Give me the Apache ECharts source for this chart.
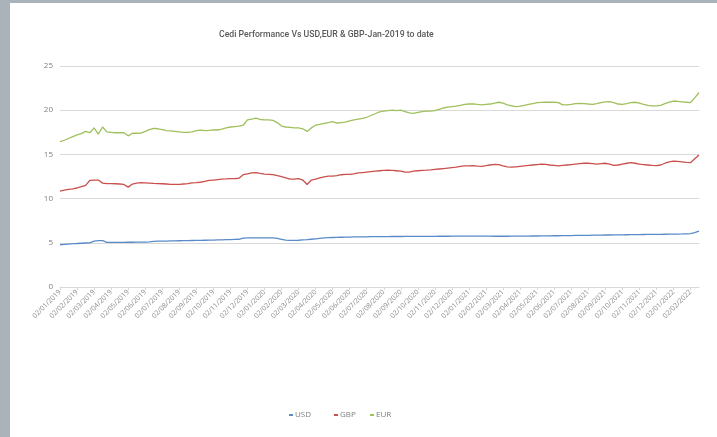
<!DOCTYPE html>
<html>
<head>
<meta charset="utf-8">
<script src="https://cdn.jsdelivr.net/npm/echarts@6/dist/echarts.min.js"></script>
<style>
html,body{margin:0;padding:0;background:#fff;}
#c{width:717px;height:437px;}
</style>
</head>
<body>
<div id="c"></div>
<script>
// Month starts shown on the axis (dd/mm/yyyy); four weekly points per month
var weekDays = ['02', '09', '16', '23'];
var totalPoints = 151;

var usd = [
4.78,4.82,4.86,4.9, 4.92,4.95,4.98,5.0, 5.2,5.25,5.25,5.05, 5.05,5.05,5.05,5.05,
5.06,5.06,5.07,5.07, 5.08,5.1,5.15,5.18, 5.2,5.2,5.21,5.22, 5.23,5.24,5.25,5.26,
5.27,5.28,5.29,5.3, 5.31,5.32,5.33,5.35, 5.36,5.38,5.4,5.54, 5.55,5.55,5.56,5.56,
5.56,5.56,5.55,5.5, 5.4,5.3,5.28,5.28, 5.29,5.32,5.35,5.4, 5.45,5.5,5.55,5.58,
5.6,5.62,5.63,5.64, 5.65,5.66,5.67,5.68, 5.68,5.69,5.69,5.7, 5.7,5.7,5.71,5.71,
5.71,5.72,5.72,5.72, 5.72,5.72,5.73,5.73, 5.73,5.74,5.74,5.74, 5.75,5.75,5.75,5.76,
5.76,5.76,5.76,5.75, 5.75,5.75,5.74,5.74, 5.74,5.74,5.75,5.75, 5.75,5.76,5.76,5.77,
5.77,5.78,5.78,5.79, 5.8,5.8,5.81,5.82, 5.82,5.83,5.84,5.84, 5.85,5.86,5.86,5.87,
5.88,5.88,5.89,5.9, 5.9,5.91,5.92,5.93, 5.93,5.94,5.95,5.95, 5.96,5.96,5.97,5.98,
5.98,5.99,6.0,6.02, 6.03,6.15,6.33
];

var gbp = [
10.85,10.95,11.05,11.1, 11.2,11.35,11.5,12.05, 12.1,12.1,11.75,11.7, 11.7,11.68,11.65,11.6,
11.3,11.65,11.75,11.8, 11.78,11.75,11.72,11.7, 11.68,11.65,11.62,11.6, 11.6,11.65,11.7,11.78,
11.8,11.85,11.95,12.05, 12.1,12.15,12.2,12.22, 12.25,12.25,12.3,12.7, 12.8,12.9,12.93,12.85,
12.78,12.75,12.72,12.6, 12.48,12.35,12.2,12.2, 12.25,12.1,11.6,12.1, 12.2,12.35,12.45,12.55,
12.55,12.6,12.7,12.75, 12.75,12.8,12.9,12.95, 13.0,13.05,13.1,13.15, 13.2,13.23,13.2,13.15,
13.1,13.0,13.0,13.1, 13.15,13.2,13.22,13.25, 13.3,13.35,13.4,13.45, 13.5,13.55,13.65,13.7,
13.7,13.72,13.68,13.65, 13.72,13.8,13.88,13.85, 13.7,13.6,13.55,13.6, 13.65,13.7,13.75,13.8,
13.85,13.9,13.88,13.8, 13.75,13.7,13.75,13.8, 13.85,13.9,13.95,14.0, 14.0,13.95,13.9,13.95,
14.0,13.9,13.75,13.8, 13.9,14.0,14.06,14.0, 13.9,13.85,13.8,13.75, 13.73,13.8,14.0,14.15,
14.25,14.2,14.15,14.1, 14.06,14.5,14.93
];

var eur = [
16.44,16.6,16.8,17.0, 17.2,17.35,17.6,17.45, 18.0,17.3,18.1,17.55, 17.5,17.45,17.45,17.45,
17.1,17.4,17.39,17.4, 17.6,17.8,17.95,17.9, 17.8,17.7,17.65,17.6, 17.55,17.5,17.5,17.55,
17.7,17.75,17.7,17.72, 17.78,17.76,17.85,18.0, 18.1,18.15,18.2,18.3, 18.9,19.0,19.1,18.95,
18.9,18.9,18.85,18.6, 18.2,18.1,18.05,18.0, 18.0,17.9,17.6,18.0, 18.3,18.4,18.5,18.6,
18.7,18.55,18.6,18.65, 18.8,18.9,19.0,19.08, 19.2,19.4,19.6,19.8, 19.9,19.95,20.0,19.95,
20.0,19.85,19.7,19.65, 19.75,19.85,19.9,19.9, 19.95,20.1,20.25,20.35, 20.4,20.45,20.55,20.65,
20.7,20.72,20.65,20.6, 20.65,20.7,20.8,20.9, 20.8,20.6,20.5,20.4, 20.45,20.55,20.65,20.75,
20.85,20.88,20.9,20.9, 20.9,20.85,20.6,20.6, 20.65,20.75,20.78,20.75, 20.7,20.67,20.75,20.85,
20.95,20.96,20.85,20.7, 20.67,20.75,20.85,20.9, 20.8,20.65,20.55,20.5, 20.48,20.55,20.75,20.9,
21.04,21.0,20.95,20.9, 20.85,21.4,22.0
];

var seriesNames = ['USD', 'GBP', 'EUR'];
var seriesColors = ['#5a8ac8', '#c9504d', '#9fc05c'];
var yTicks = [0, 5, 10, 15, 20, 25];

// build weekly categories
var categories = [];
(function () {
  var y = 2019, m = 1;
  while (categories.length < totalPoints) {
    for (var w = 0; w < 4 && categories.length < totalPoints; w++) {
      var mm = (m < 10 ? '0' : '') + m;
      categories.push(weekDays[w] + '/' + mm + '/' + y);
    }
    m++; if (m > 12) { m = 1; y++; }
  }
})();

var chart = echarts.init(document.getElementById('c'), null, {renderer: 'canvas'});
var dataArr = [usd, gbp, eur];
var series = seriesNames.map(function (n, i) {
  return {
    name: n, type: 'line', data: dataArr[i], showSymbol: false, symbol: 'none',
    lineStyle: {width: 1.3, color: seriesColors[i]}, itemStyle: {color: seriesColors[i]},
    animation: false
  };
});

var legendPos = [284, 329, 365];
var legends = seriesNames.map(function (n, i) {
  return {
    data: [n], left: legendPos[i], top: 406, icon: 'rect', itemWidth: 4, itemHeight: 2,
    itemGap: 0, textStyle: {fontSize: 8, color: '#7f7f7f', fontFamily: 'Open Sans', padding: [0,0,0,-3]},
    selectedMode: false
  };
});

chart.setOption({
  backgroundColor: '#ffffff',
  animation: false,
  title: {
    text: 'Cedi Performance Vs USD,EUR & GBP-Jan-2019 to date',
    left: 214, top: 25,
    textStyle: {fontFamily: 'Roboto', fontSize: 8.7, fontWeight: 500, color: '#595959'}
  },
  legend: legends,
  graphic: [
    {type: 'rect', shape: {x: 0, y: 0, width: 10, height: 437}, style: {fill: '#aab2ba'}, z: 100},
    {type: 'rect', shape: {x: 0, y: 0, width: 717, height: 3}, style: {fill: '#aab2ba'}, z: 100}
  ],
  grid: {left: 60, right: 18, top: 66, bottom: 150, containLabel: false},
  xAxis: {
    type: 'category', data: categories, boundaryGap: false,
    axisLine: {lineStyle: {color: '#d9d9d9', width: 1}},
    axisTick: {show: true, interval: 3, length: 3, lineStyle: {color: '#d9d9d9'}},
    axisLabel: {interval: 3, rotate: 45, fontSize: 7, color: '#8c8c8c', fontFamily: 'Open Sans', margin: 4}
  },
  yAxis: {
    type: 'value', min: yTicks[0], max: yTicks[yTicks.length - 1], interval: 5,
    axisLine: {show: false}, axisTick: {show: false},
    splitLine: {lineStyle: {color: '#d9d9d9', width: 1}},
    axisLabel: {fontSize: 8, color: '#7f7f7f', fontFamily: 'Open Sans', margin: 7}
  },
  series: series
});
</script>
</body>
</html>
